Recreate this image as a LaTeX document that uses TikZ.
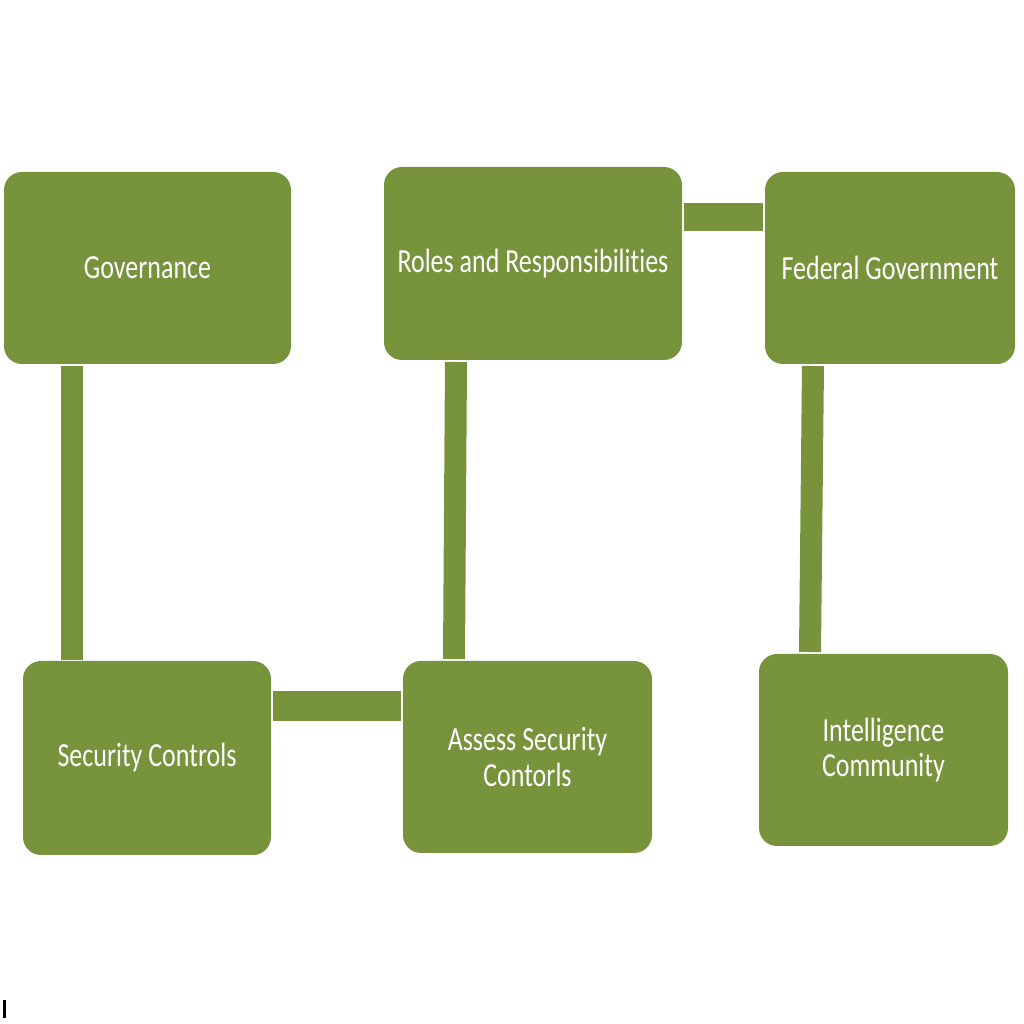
\documentclass[tikz,border=0pt]{standalone}
\usepackage{fontspec}
\setmainfont{Carlito}
\newfontfamily\boxfont[FakeStretch=0.77, Ligatures=NoCommon]{Carlito}
\usepackage{xcolor}
\usepackage{tikz}
\usetikzlibrary{positioning,calc}
\definecolor{olive}{HTML}{77933C}
\tikzset{
  box/.style={fill=olive, rounded corners=0.18cm, align=center, text=white, inner sep=0pt, outer sep=0pt,
    font=\boxfont\fontsize{9.6}{10.2}\selectfont},
  link/.style={draw=olive, line width=0.22cm}
}

\begin{document}
\begin{tikzpicture}
        \useasboundingbox[fill=white] (0,0) rectangle (10.24,10.24);
        \node[box, minimum width=2.87cm, minimum height=1.92cm] (gov) at (1.475,7.56) {Governance};
        \node[box, minimum width=2.98cm, minimum height=1.93cm] (roles) at (5.33,7.605) {Roles and Responsibilities};
        \node[box, minimum width=2.50cm, minimum height=1.92cm] (fed) at (8.90,7.56) {Federal Government};
        \node[box, minimum width=2.48cm, minimum height=1.94cm] (sec) at (1.47,2.66) {Security Controls};
        \node[box, minimum width=2.49cm, minimum height=1.92cm] (assess) at (5.275,2.67) {Assess Security\\Contorls};
        \node[box, minimum width=2.49cm, minimum height=1.92cm] (intel) at (8.835,2.74) {Intelligence\\Community};
        \draw[link] ($(gov.south -| 0.72,0)+(0,-0.02)$) -- ($(sec.north -| 0.72,0)+(0,0.01)$);
        \draw[link] ($(roles.south -| 4.56,0)+(0,-0.02)$) -- ($(assess.north -| 4.54,0)+(0,0.02)$);
        \draw[link] ($(fed.south -| 8.13,0)+(0,-0.02)$) -- ($(intel.north -| 8.10,0)+(0,0.02)$);
        \draw[link, line width=0.28cm] ($(roles.east |- 0,8.07)+(0.02,0)$) -- ($(fed.west |- 0,8.07)+(-0.02,0)$);
        \draw[link, line width=0.30cm] ($(sec.east |- 0,3.18)+(0.02,0)$) -- ($(assess.west |- 0,3.18)+(-0.02,0)$);
        \fill[black] (0.03,0.06) rectangle (0.06,0.24);
      \end{tikzpicture}
\end{document}
